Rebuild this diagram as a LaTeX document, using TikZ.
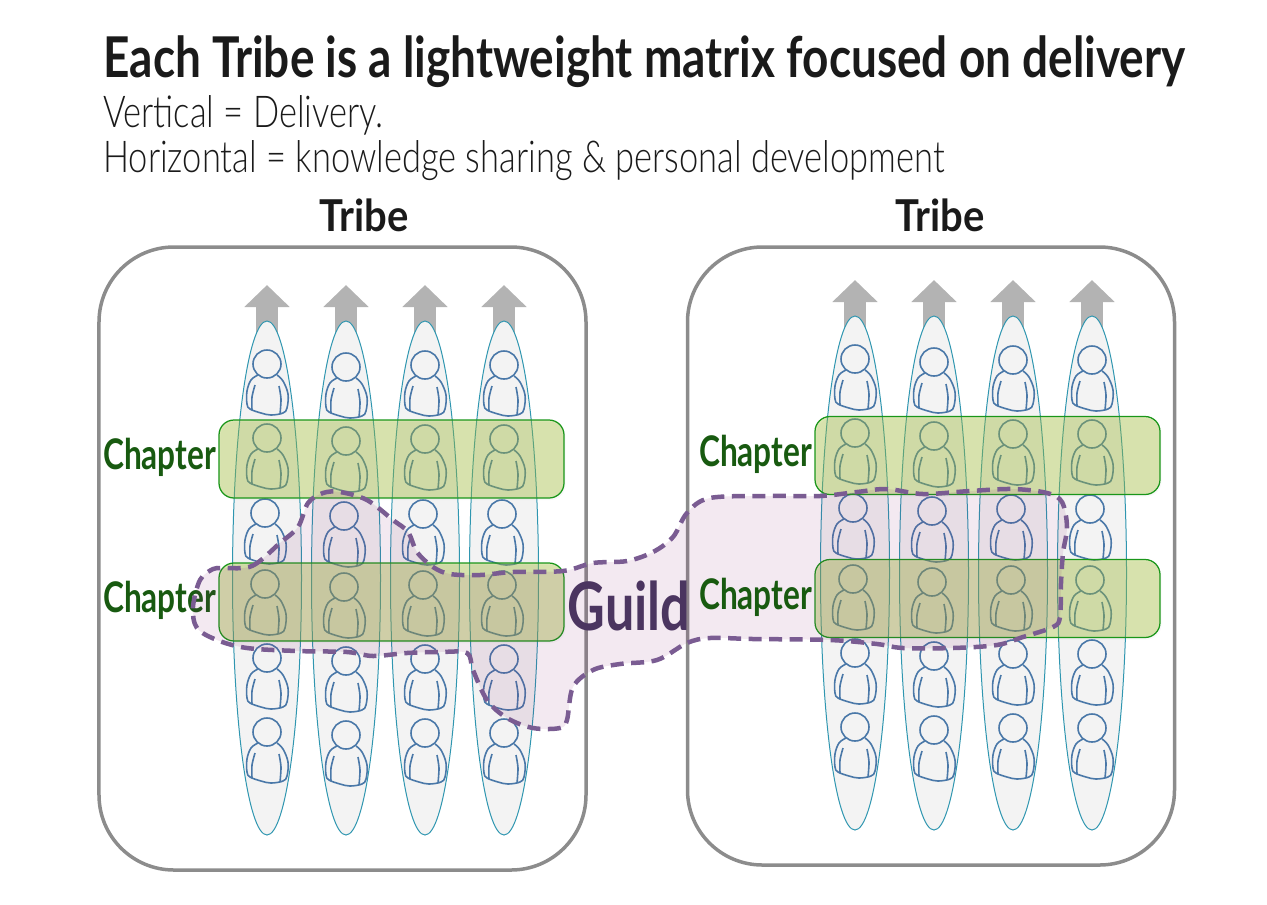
\documentclass[tikz,border=0pt]{standalone}
\usepackage{fontspec}
\setmainfont{Lato}
\newfontfamily\thinfont[FakeStretch=0.785]{Lato Light}
\usepackage{xcolor}
\usepackage{tikz}
\usetikzlibrary{positioning, arrows.meta, backgrounds, shapes.geometric, shadows}

\definecolor{lanegray}{RGB}{243,243,243}
\definecolor{laneline}{RGB}{47,150,176}
\definecolor{personblue}{RGB}{74,120,168}
\definecolor{boxgray}{RGB}{140,140,140}
\definecolor{arrowgray}{RGB}{179,179,179}
\definecolor{chapterfill}{RGB}{160,189,52}
\definecolor{chapterline}{RGB}{26,150,26}
\definecolor{chaptertext}{RGB}{24,90,16}
\definecolor{guildfill}{RGB}{135,35,115}
\definecolor{guildline}{RGB}{122,92,146}
\definecolor{guildtext}{RGB}{75,53,96}
\definecolor{titleblack}{RGB}{26,26,26}

\begin{document}
\begin{tikzpicture}[
    x=0.2mm, y=-0.2mm,
    >=Latex,
    tribebox/.style={
        rectangle, rounded corners=15mm,
        draw=boxgray, line width=0.7mm,
        minimum width=97.4mm, minimum height=124.6mm
    },
    lane/.style={
        ellipse, draw=laneline, line width=0.2mm,
        fill=lanegray, inner sep=0pt,
        minimum width=13.8mm, minimum height=102.8mm
    },
    lanearrow/.style={
        -{Triangle[width=8.8mm,length=4.4mm]},
        line width=4.4mm, draw=arrowgray
    },
    chapter/.style={
        rectangle, rounded corners=3mm,
        draw=chapterline, line width=0.25mm,
        fill=chapterfill, fill opacity=0.38,
        drop shadow={shadow xshift=0.3mm, shadow yshift=-0.4mm, opacity=0.05},
        minimum width=69mm, minimum height=15.6mm
    },
    chapterlabel/.style={
        font=\fontsize{24pt}{26pt}\selectfont\bfseries\addfontfeatures{FakeStretch=0.75},
        text=chaptertext, inner sep=0pt, yshift=0.3mm
    },
    tribelabel/.style={
        font=\fontsize{25pt}{28pt}\selectfont\bfseries\addfontfeatures{FakeStretch=0.91},
        text=titleblack, inner sep=0pt
    },
    headline/.style={anchor=west, inner sep=0pt, text=titleblack},
    personline/.style={draw=personblue, line width=0.32mm, line join=round},
    person/.pic={
        \draw[personline] (0,0) circle[radius=14];
        \draw[personline] plot[smooth, tension=.6] coordinates
            {(-9,11) (-16,16) (-20,27) (-20,40) (-17,45) (-6,49) (4,51) (16,49) (20,44) (21,30) (16,17) (10,11)};
        \draw[personline] plot[smooth] coordinates {(-12,21) (-15,33) (-15,46)};
        \draw[personline] plot[smooth] coordinates {(12,22) (14,35) (13,50)};
    },
]

\useasboundingbox (0,0) rectangle (1267,904);

% ---------- Heading ----------
\node[headline, font=\fontsize{32pt}{36pt}\selectfont\bfseries\addfontfeatures{FakeStretch=0.817}] (title) at (103,62)
    {Each Tribe is a lightweight matrix focused on delivery};
\node[headline, font=\fontsize{25pt}{28pt}\selectfont\thinfont] (vertical) at (103,115)
    {Vertical = Delivery.};
\node[headline, font=\fontsize{25pt}{28pt}\selectfont\thinfont] (horizontal) at (103,161)
    {Horizontal = knowledge sharing \& personal development};

% ---------- Tribe boxes ----------
\node[tribebox] (tribeL) at (342.5,558.5) {};
\node[tribebox, minimum height=123.6mm] (tribeR) at (931,556) {};
\node[tribelabel] at (364,215) {Tribe};
\node[tribelabel] at (940,215) {Tribe};

% ---------- Lanes with their arrows and people ----------
\foreach \tribe/\sx/\sy in {L/0/0, R/588/-5} {
  \begin{scope}[shift={(\sx,\sy)}]
    \foreach \i/\cx/\cy in {1/267/0, 2/346/3, 3/425/1, 4/504/1} {
      \node[lane] (lane\tribe\i) at (\cx,578) {};
      \coordinate (tip\tribe\i) at (\cx,285);
      \begin{scope}[on background layer]
        \draw[lanearrow] ([yshift=-8mm]lane\tribe\i.north) -- (tip\tribe\i);
      \end{scope}
      \foreach \ry/\rx in {364/0, 438/0, 513/-2, 584/-2, 658/0, 732/0}
        \pic at ({\cx+\rx},{\ry+\cy}) {person};
    }
  \end{scope}
}

% ---------- Chapters ----------
\node[chapter] (chapL1) at (391.5,459) {};
\node[chapter] (chapL2) at (391.5,602) {};
\node[chapter] (chapR1) at (987.5,455.5) {};
\node[chapter] (chapR2) at (987.5,598.5) {};

\node[chapterlabel, left=0.4mm of chapL1] {Chapter};
\node[chapterlabel, left=0.4mm of chapL2] {Chapter};
\node[chapterlabel, left=0.4mm of chapR1] {Chapter};

% ---------- Guild ----------
\draw[draw=guildline, line width=0.9mm, dash pattern=on 2.6mm off 1.5mm,
      fill=guildfill, fill opacity=0.1]
    plot[smooth cycle, tension=.55] coordinates {
    (223,568) (252,566) (280,543) (298,527) (308,503) (323,493) (340,492)
    (367,500) (393,520) (408,532) (417,552) (433,567) (450,574) (480,575)
    (513,572) (563,571) (593,563) (627,561) (653,552) (673,537) (687,513)
    (710,498) (770,496) (820,496) (857,492) (887,489) (923,494) (970,491)
    (1013,489) (1047,493) (1062,502) (1067,527) (1063,553) (1061,583)
    (1060,617) (1053,627) (1023,637) (997,645) (953,648) (903,648) (877,644)
    (830,640) (753,639) (710,638) (687,643) (657,660) (620,664) (593,670)
    (573,687) (567,720) (560,728) (533,728) (507,718) (487,700) (473,670)
    (467,653) (440,652) (407,653) (373,656) (347,652) (297,651) (247,648)
    (217,640) (197,628) (193,607) (200,580) (213,569)};

\node[chapterlabel, left=0.4mm of chapR2] {Chapter};
\node[font=\fontsize{38pt}{42pt}\selectfont\bfseries\addfontfeatures{FakeStretch=0.78}, text=guildtext, inner sep=0pt] (guild) at (629,606) {Guild};

\end{tikzpicture}
\end{document}
